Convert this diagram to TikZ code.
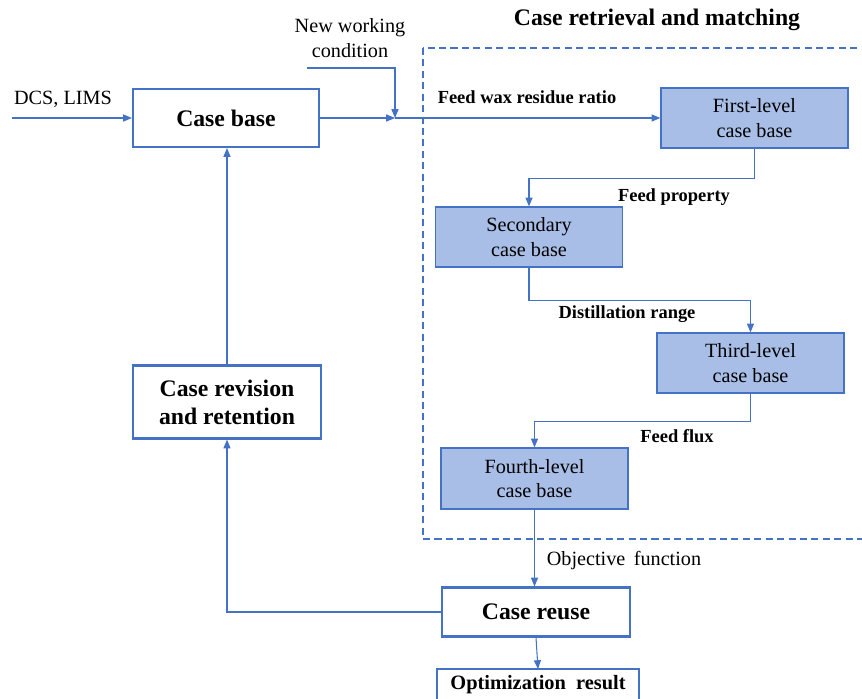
\documentclass[tikz,border=0pt]{standalone}
\usepackage{fontspec}
\setmainfont{Liberation Serif}
\usepackage{xcolor}
\usetikzlibrary{calc,arrows.meta}
\definecolor{lnblue}{HTML}{4472C4}
\definecolor{fillblue}{HTML}{A8BEE6}

\begin{document}
\begin{tikzpicture}[x=0.02cm, y=-0.02cm,
box/.style = {draw = lnblue, line width = 1.2pt, fill = white, inner sep = 0pt, align = center, font = \fontsize{13.5}{16}\selectfont\bfseries},
lvl/.style = {draw = lnblue, line width = 0.7pt, fill = fillblue, inner sep = 0pt, align = center, minimum width = 187*0.02cm, minimum height = 60*0.02cm, font = \fontsize{11.5}{14}\selectfont},
lbl/.style = {inner sep = 1pt, font = \fontsize{10.5}{12}\selectfont\bfseries},
txt/.style = {inner sep = 1pt, align = center, font = \fontsize{11.5}{14}\selectfont},
con/.style = {draw = lnblue, line width = 0.6pt, -{Triangle[length = 5pt, width = 4pt]}}
]
\useasboundingbox (0,0) rectangle (862,699);
\draw[lnblue, line width = 0.6pt, dash pattern = on 4pt off 2.5pt] (423,48) rectangle (880,539);
\node[font = \fontsize{13.5}{16}\selectfont\bfseries] (title) at (657,20) {Case retrieval and matching};
\node[box, minimum width = 186*0.02cm, minimum height = 58*0.02cm] (base) at (226,118) {Case base};
\node[box, minimum width = 188*0.02cm, minimum height = 73*0.02cm] (rev) at (227,402) {Case revision\\and retention};
\node[box, minimum width = 188*0.02cm, minimum height = 49*0.02cm] (reuse) at (536,612) {Case reuse};
\draw[lnblue, line width = 1.2pt, fill = white] (437,669) rectangle (639,712);
\node[font = \fontsize{11.6}{14}\selectfont\bfseries, inner sep = 0pt] (opt) at (538,685) {Optimization\ \ result};
\node[lvl] (l1) at (754.5,118) {First-level\\case base};
\node[lvl] (l2) at (529,237) {Secondary\\case base};
\node[lvl] (l3) at (750.5,363) {Third-level\\case base};
\node[lvl, minimum height = 61*0.02cm] (l4) at (534.5,478.5) {Fourth-level\\case base};
\node[txt] (dcs) at (63,99) {DCS, LIMS};
\node[txt] (new) at (350,38) {New working\\condition};
\node[lbl] (wax) at (527,97) {Feed wax residue ratio};
\node[lbl] (prop) at (674,197) {Feed property};
\node[lbl] (dist) at (627,314) {Distillation range};
\node[lbl] (flux) at (677,436) {Feed flux};
\node[txt] (obj) at (624,561) {Objective\ \,function};
\coordinate (in) at (12,118);
\coordinate (nw) at (307,68);
\coordinate (j) at (395,118);
\coordinate (optn) at (538,669);
\draw[con] (in) -- (base);
\draw[con] (base) -- (j);
\draw[con] (nw) -| (j);
\draw[con] (j) -- (l1);
\foreach \a/\b/\d in {l1/l2/30, l2/l3/33, l3/l4/28}{\draw[con] (\a.south) -- ++(0,\d) -| (\b.north);}
\draw[con] (l4.south) -- (l4.south |- reuse.north);
\draw[con] (reuse.south) -- (optn);
\draw[con] (reuse.west) -| (rev.south);
\draw[con] (rev.north) -- (rev.north |- base.south);
\end{tikzpicture}
\end{document}
